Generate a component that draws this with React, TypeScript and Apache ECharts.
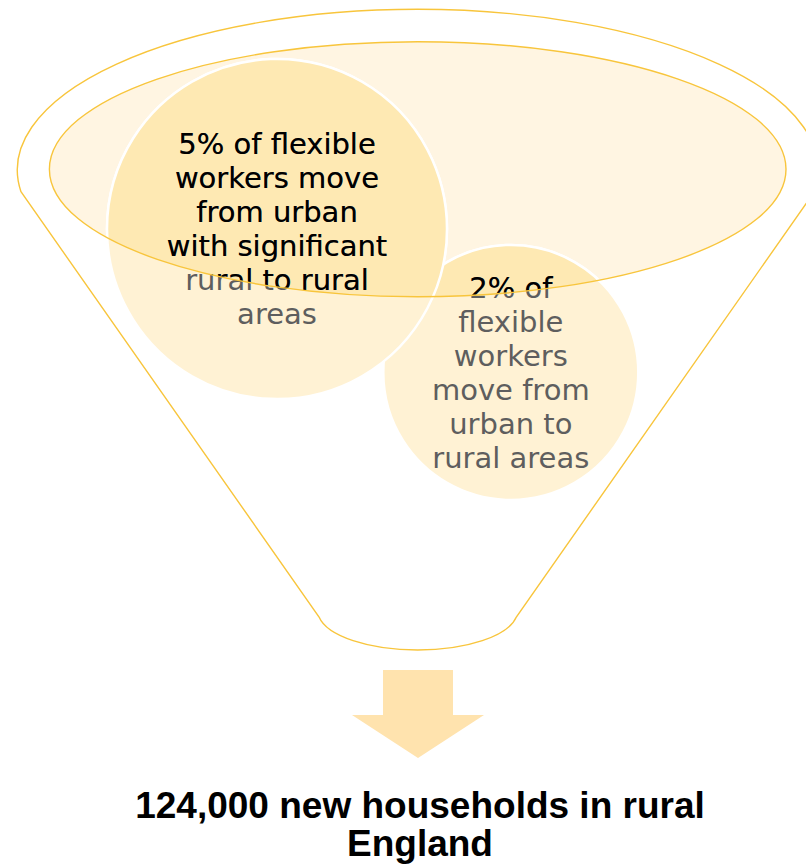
import React, { useEffect, useRef } from 'react';
import * as echarts from 'echarts';

// ---- content ----
const bigCircleLines = ['5% of flexible', 'workers move', 'from urban', 'with significant', 'rural to rural', 'areas'];
const smallCircleLines = ['2% of', 'flexible', 'workers', 'move from', 'urban to', 'rural areas'];
const resultLines = ['124,000 new households in rural', 'England'];

// ---- layout / style ----
const W = 806;
const H = 864;
const OUTLINE = '#F8C53C';
const CREAM = '#FFF5E2';
const CIRCLE_LIGHT = '#FFF2D4';
const CIRCLE_DARK = '#FEE9B3';
const ARROW = '#FFE3AE';
const GREY_TEXT = '#5E5E5E';

const funnel = { cx: 417.7, topCy: 170, topRx: 400.4, topRy: 160.7, sideTopY: 191.7, botCy: 610.5, botRx: 100, botRy: 39.5, cornerY: 617 };
const inner = { cx: 417.7, cy: 169.2, rx: 368.3, ry: 127.5 };
const bigCircle = { cx: 277, cy: 229, r: 170 };
const smallCircle = { cx: 510.8, cy: 372.5, r: 127.5 };
const arrow = { cx: 418, shaftHalf: 35, top: 670, neck: 715, headHalf: 66, tip: 758 };
const title = { cx: 420, y: 805, lh: 38 };
const BODY_FONT = '29px "DejaVu Sans"';
const BODY_LH = 34;

function funnelPath(): string {
  const f = funnel;
  const dx = f.topRx * Math.sqrt(1 - Math.pow((f.sideTopY - f.topCy) / f.topRy, 2));
  const bx = f.botRx * Math.sqrt(1 - Math.pow((f.cornerY - f.botCy) / f.botRy, 2));
  return `M ${f.cx - dx} ${f.sideTopY} A ${f.topRx} ${f.topRy} 0 1 1 ${f.cx + dx} ${f.sideTopY} ` +
    `L ${f.cx + bx} ${f.cornerY} A ${f.botRx} ${f.botRy} 0 0 1 ${f.cx - bx} ${f.cornerY} Z`;
}

function textLines(lines: string[], cx: number, cy: number, lh: number, font: string, fill: string) {
  return lines.map((t, i) => ({
    type: 'text',
    silent: true,
    style: {
      text: t,
      x: cx,
      y: cy + (i - (lines.length - 1) / 2) * lh,
      fill,
      font,
      align: 'center',
      verticalAlign: 'middle',
      textAlign: 'center',
      textVerticalAlign: 'middle',
    },
  }));
}

function circleEl(c: { cx: number; cy: number; r: number }, fill: string) {
  return {
    type: 'circle',
    shape: { cx: c.cx, cy: c.cy, r: c.r },
    style: { fill, stroke: '#FFFFFF', lineWidth: 2.5 },
  };
}

const innerShape = { cx: inner.cx, cy: inner.cy, rx: inner.rx, ry: inner.ry };

function renderDiagram() {
  const allTextGrey = [
    ...textLines(bigCircleLines, bigCircle.cx, bigCircle.cy, BODY_LH, BODY_FONT, GREY_TEXT),
    ...textLines(smallCircleLines, smallCircle.cx, smallCircle.cy, BODY_LH, BODY_FONT, GREY_TEXT),
  ];
  const allTextBlack = [
    ...textLines(bigCircleLines, bigCircle.cx, bigCircle.cy, BODY_LH, BODY_FONT, '#000000'),
    ...textLines(smallCircleLines, smallCircle.cx, smallCircle.cy, BODY_LH, BODY_FONT, '#000000'),
  ];
  const a = arrow;
  return {
    type: 'group',
    children: [
      { type: 'path', shape: { pathData: funnelPath() }, style: { fill: 'none', stroke: OUTLINE, lineWidth: 1.4 } },
      { type: 'ellipse', shape: innerShape, style: { fill: CREAM, stroke: 'none' } },
      circleEl(smallCircle, CIRCLE_LIGHT),
      circleEl(bigCircle, CIRCLE_LIGHT),
      {
        type: 'group',
        clipPath: { type: 'ellipse', shape: innerShape },
        children: [circleEl(smallCircle, CIRCLE_DARK), circleEl(bigCircle, CIRCLE_DARK)],
      },
      { type: 'group', children: allTextGrey },
      {
        type: 'group',
        clipPath: { type: 'ellipse', shape: innerShape },
        children: allTextBlack,
      },
      { type: 'ellipse', shape: innerShape, style: { fill: 'none', stroke: OUTLINE, lineWidth: 1.4 } },
      {
        type: 'polygon',
        shape: {
          points: [
            [a.cx - a.shaftHalf, a.top], [a.cx + a.shaftHalf, a.top], [a.cx + a.shaftHalf, a.neck],
            [a.cx + a.headHalf, a.neck], [a.cx, a.tip], [a.cx - a.headHalf, a.neck], [a.cx - a.shaftHalf, a.neck],
          ],
        },
        style: { fill: ARROW },
      },
      ...textLines(resultLines, title.cx, title.y + (resultLines.length - 1) / 2 * title.lh, title.lh, 'bold 37px "Liberation Sans"', '#000000'),
    ],
  };
}

export default function App() {
  const ref = useRef<HTMLDivElement>(null);
  useEffect(() => {
    document.body.style.margin = '0';
    if (!ref.current) return;
    const chart = echarts.init(ref.current, undefined, { renderer: 'svg' });
    chart.setOption({
      animation: false,
      backgroundColor: '#FFFFFF',
      series: [
        {
          type: 'custom',
          coordinateSystem: 'none',
          silent: true,
          data: [0],
          renderItem: () => renderDiagram(),
        },
      ],
    });
    return () => chart.dispose();
  }, []);
  return <div ref={ref} style={{ width: W, height: H }} />;
}
